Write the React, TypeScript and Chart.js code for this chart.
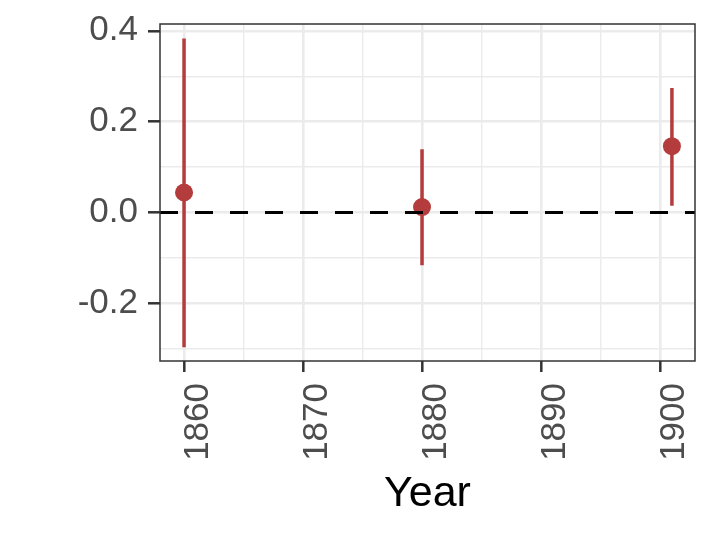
import React, { useEffect, useRef } from "react";
import { Chart, registerables } from "chart.js";

Chart.register(...registerables);

const years = [1860, 1880, 1901];
const estimates = [0.044, 0.012, 0.146];
const lower = [-0.297, -0.116, 0.015];
const upper = [0.383, 0.139, 0.274];
const refLineY = 0;

const yTicks = [-0.3, -0.2, -0.1, 0, 0.1, 0.2, 0.3, 0.4];
const yLabeled = [-0.2, 0, 0.2, 0.4];
const xTicks = [1860, 1865, 1870, 1875, 1880, 1885, 1890, 1895, 1900];
const xLabeled = [1860, 1870, 1880, 1890, 1900];
const xTitle = "Year";

const X_MIN = 1857.98;
const X_MAX = 1902.94;
const Y_MIN = -0.327;
const Y_MAX = 0.415;

const RED = "#b43c3c";
const FONT = "'Liberation Sans', Arial, sans-serif";

const isLabeledY = (v: number) => yLabeled.some((t) => Math.abs(t - v) < 1e-6);
const isLabeledX = (v: number) => xLabeled.some((t) => Math.abs(t - v) < 1e-6);

export default function App() {
  const ref = useRef<HTMLCanvasElement | null>(null);

  useEffect(() => {
    if (!ref.current) return;
    const errData: any[] = [];
    years.forEach((yr, i) => {
      errData.push({ x: yr, y: lower[i] });
      errData.push({ x: yr, y: upper[i] });
      errData.push({ x: yr, y: null });
    });

    const borderPlugin = {
      id: "panelBorder",
      afterDraw(chart: any) {
        const { ctx, chartArea } = chart;
        ctx.save();
        ctx.strokeStyle = "#333333";
        ctx.lineWidth = 1.5;
        ctx.strokeRect(chartArea.left, chartArea.top, chartArea.right - chartArea.left, chartArea.bottom - chartArea.top);
        ctx.restore();
      },
    };

    const chart = new Chart(ref.current, {
      type: "line",
      data: {
        datasets: [
          {
            data: [
              { x: X_MIN, y: refLineY },
              { x: X_MAX, y: refLineY },
            ],
            borderColor: "#000000",
            borderWidth: 3,
            borderDash: [18, 17],
            pointRadius: 0,
            fill: false,
          },
          {
            type: "scatter",
            data: years.map((yr, i) => ({ x: yr, y: estimates[i] })),
            backgroundColor: RED,
            borderWidth: 0,
            pointRadius: 9,
            pointHoverRadius: 9,
          } as any,
          {
            data: errData,
            borderColor: RED,
            borderWidth: 3.5,
            pointRadius: 0,
            spanGaps: false,
            fill: false,
          },
        ],
      },
      options: {
        responsive: false,
        animation: false,
        events: [],
        layout: { padding: { top: 24, right: 25, left: 0, bottom: 0 } },
        plugins: { legend: { display: false }, tooltip: { enabled: false } },
        scales: {
          x: {
            type: "linear",
            min: X_MIN,
            max: X_MAX,
            afterBuildTicks: (scale: any) => {
              scale.ticks = xTicks.map((v) => ({ value: v }));
            },
            afterFit: (scale: any) => {
              scale.height = 540 - 361;
              scale.paddingLeft = 0;
              scale.paddingRight = 0;
            },
            ticks: {
              autoSkip: false,
              minRotation: 90,
              maxRotation: 90,
              padding: 11,
              labelOffset: 14,
              color: "#4d4d4d",
              font: { family: FONT, size: 35 },
              callback: (v: any) => (isLabeledX(Number(v)) ? String(Math.round(Number(v))) : ""),
            },
            grid: {
              color: "#ebebeb",
              lineWidth: (c: any) => (c.tick && isLabeledX(c.tick.value) ? 2.6 : 1.4),
              tickColor: (c: any) => (c.tick && isLabeledX(c.tick.value) ? "#333333" : "rgba(0,0,0,0)"),
              tickWidth: 2.5,
              tickLength: 11,
              drawTicks: true,
            },
            border: { display: false },
            title: {
              display: true,
              text: xTitle,
              color: "#000000",
              font: { family: FONT, size: 43 },
              padding: { top: 0, bottom: 20 },
            },
          },
          y: {
            type: "linear",
            min: Y_MIN,
            max: Y_MAX,
            afterBuildTicks: (scale: any) => {
              scale.ticks = yTicks.map((v) => ({ value: v }));
            },
            afterFit: (scale: any) => {
              scale.width = 160;
              scale.paddingTop = 0;
              scale.paddingBottom = 0;
            },
            ticks: {
              padding: 10,
              color: "#4d4d4d",
              font: { family: FONT, size: 35 },
              callback: (v: any) => (isLabeledY(Number(v)) ? Number(v).toFixed(1) : ""),
            },
            grid: {
              color: "#ebebeb",
              lineWidth: (c: any) => (c.tick && isLabeledY(c.tick.value) ? 2.6 : 1.4),
              tickColor: (c: any) => (c.tick && isLabeledY(c.tick.value) ? "#333333" : "rgba(0,0,0,0)"),
              tickWidth: 2.5,
              tickLength: 12,
              drawTicks: true,
            },
            border: { display: false },
          },
        },
      },
      plugins: [borderPlugin],
    } as any);

    return () => chart.destroy();
  }, []);

  return (
    <div style={{ position: "absolute", left: 0, top: 0, width: 720, height: 540, background: "#ffffff" }}>
      <canvas ref={ref} width={720} height={540} />
    </div>
  );
}
